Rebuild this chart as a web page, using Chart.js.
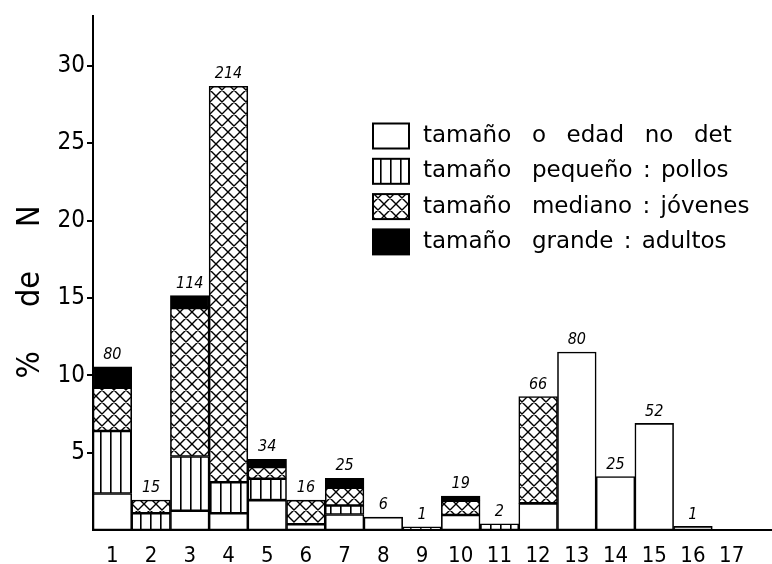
<!DOCTYPE html>
<html><head><meta charset="utf-8">
<script src="https://cdn.jsdelivr.net/npm/chart.js@4/dist/chart.umd.min.js"></script>
<style>html,body{margin:0;padding:0;background:#fff}#wrap{width:772px;height:564px}</style>
</head><body><div id="wrap"><canvas id="c" width="772" height="564"></canvas></div>
<script>
const categories = ['1','2','3','4','5','6','7','8','9','10','11','12','13','14','15','16','17'];
const seriesLabels = [
  'tamaño  o  edad  no  det',
  'tamaño  pequeño : pollos',
  'tamaño  mediano : jóvenes',
  'tamaño  grande : adultos'
];
// % de N per category and size class (null = absent)
const noDeterminado = [2.36, null, 1.25, 1.08, 1.93, 0.37, 1.00, 0.83, null, 0.97, null, 1.72, 11.5, 3.46, 6.89, 0.23, null];
const pequeno       = [4.04, 1.08, 3.50, 2.00, 1.38, null, 0.58, null, 0.20, null, 0.40, null, null, null, null, null, null];
const mediano       = [2.80, 0.86, 9.60, 25.6, 0.76, 1.56, 1.15, null, null, 0.92, null, 6.91, null, null, null, null, null];
const grande        = [1.35, null, 0.80, null, 0.50, null, 0.61, null, null, 0.31, null, null, null, null, null, null, null];
const sampleSizes   = ['80','15','114','214','34','16','25','6','1','19','2','66','80','25','52','1',''];
const yTickValues = [5, 10, 15, 20, 25, 30];
const yMax = 33.2;
const yAxisTitle = '% de N';

const FONT = "'DejaVu Sans Condensed', 'DejaVu Sans', sans-serif";
const FONT_WIDE = "'DejaVu Sans', sans-serif";

function makeCanvas(w, h) { const c = document.createElement('canvas'); c.width = w; c.height = h; return c; }
const ctx0 = document.getElementById('c').getContext('2d');

function stripePattern() {
  const c = makeCanvas(10, 10), g = c.getContext('2d');
  g.fillStyle = '#fff'; g.fillRect(0, 0, 10, 10);
  g.fillStyle = '#000'; g.fillRect(0, 0, 1.6, 10);
  return ctx0.createPattern(c, 'repeat');
}
function crossPattern() {
  const s = 12, c = makeCanvas(s, s), g = c.getContext('2d');
  g.fillStyle = '#fff'; g.fillRect(0, 0, s, s);
  g.strokeStyle = '#000'; g.lineWidth = 1.4;
  g.beginPath();
  for (const o of [-s, 0, s]) {
    g.moveTo(o, 0); g.lineTo(o + s, s);
    g.moveTo(o + s, 0); g.lineTo(o, s);
  }
  g.stroke();
  return ctx0.createPattern(c, 'repeat');
}
const fills = ['#ffffff', stripePattern(), crossPattern(), '#000000'];
const seriesData = [noDeterminado, pequeno, mediano, grande];

const datasets = seriesData.map((d, i) => ({
  label: seriesLabels[i],
  data: d,
  backgroundColor: fills[i],
  borderColor: '#000',
  borderWidth: 1.6,
  borderSkipped: false,
  barPercentage: 1,
  categoryPercentage: 1
}));

const decor = {
  id: 'decor',
  afterDraw(chart) {
    const ctx = chart.ctx, ca = chart.chartArea, xs = chart.scales.x, ys = chart.scales.y;
    ctx.save();
    // x axis line extends to the right edge
    ctx.strokeStyle = '#000'; ctx.lineWidth = 2;
    ctx.beginPath(); ctx.moveTo(ca.right, ys.getPixelForValue(0)); ctx.lineTo(chart.width, ys.getPixelForValue(0)); ctx.stroke();
    // sample sizes above bars
    ctx.fillStyle = '#000';
    ctx.font = "italic 16px " + FONT;
    ctx.textAlign = 'center'; ctx.textBaseline = 'bottom';
    categories.forEach((c, i) => {
      let tot = 0;
      seriesData.forEach(s => { tot += (s[i] || 0); });
      if (!sampleSizes[i]) return;
      ctx.fillText(sampleSizes[i], xs.getPixelForValue(i), ys.getPixelForValue(tot) - 4);
    });
    // legend
    const lx = 373, ly0 = 136, step = 35.3, bw = 36, bh = 25;
    ctx.font = "23px " + FONT_WIDE;
    ctx.textAlign = 'left'; ctx.textBaseline = 'middle';
    try { ctx.wordSpacing = '3px'; } catch (e) {}
    datasets.forEach((ds, i) => {
      const cy = ly0 + i * step;
      ctx.fillStyle = ds.backgroundColor;
      ctx.fillRect(lx, cy - bh / 2, bw, bh);
      ctx.strokeStyle = '#000'; ctx.lineWidth = 2;
      ctx.strokeRect(lx, cy - bh / 2, bw, bh);
      ctx.fillStyle = '#000';
      ctx.fillText(ds.label, 423, cy);
    });
    // y axis title
    ctx.translate(31, 292);
    ctx.rotate(-Math.PI / 2);
    ctx.font = "32px " + FONT;
    ctx.textAlign = 'center'; ctx.textBaseline = 'middle';
    try { ctx.wordSpacing = '35px'; } catch (e) {}
    ctx.fillText(yAxisTitle, 0, 0);
    ctx.restore();
  }
};

new Chart(document.getElementById('c'), {
  type: 'bar',
  data: { labels: categories, datasets },
  options: {
    responsive: false,
    animation: false,
    layout: { padding: { top: 10, right: 21, left: 0, bottom: 0 } },
    plugins: { legend: { display: false }, tooltip: { enabled: false } },
    scales: {
      x: {
        stacked: true,
        grid: { display: false },
        border: { color: '#000', width: 2 },
        ticks: { font: { family: FONT, size: 22 }, color: '#000', padding: 5, maxRotation: 0, autoSkip: false },
        afterFit: s => { s.height = 34; }
      },
      y: {
        stacked: true,
        min: 0, max: yMax,
        afterBuildTicks: s => { s.ticks = yTickValues.map(v => ({ value: v })); },
        ticks: { font: { family: FONT, size: 24 }, color: '#000', padding: 2 },
        grid: { drawOnChartArea: false, drawTicks: true, tickLength: 6, color: '#000', lineWidth: 2 },
        border: { color: '#000', width: 2 },
        afterFit: s => { s.width = 93; }
      }
    }
  },
  plugins: [decor]
});
</script>
</body></html>
